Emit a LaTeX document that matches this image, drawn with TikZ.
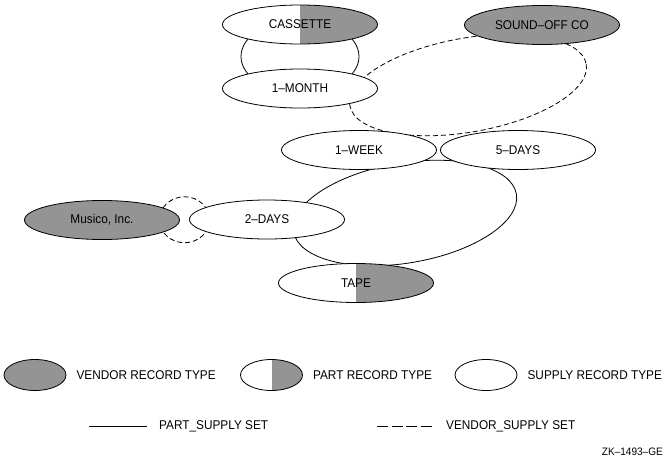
\documentclass[tikz,border=0pt]{standalone}
\usepackage{fontspec}
\setmainfont{Liberation Sans}[FakeStretch=0.93]
\usetikzlibrary{shapes.geometric,positioning,backgrounds,calc}
\definecolor{recgray}{gray}{0.58}

\begin{document}
\begin{tikzpicture} [
		x=1pt, y=-1pt,
		font=\fontsize{12.7}{14}\selectfont,
		rec/.style      = { ellipse, draw=black, line width=0.8pt, fill=white,
			minimum width=155pt, minimum height=39pt, inner sep=0pt },
		vendor/.style   = { rec, fill=recgray },
		supply/.style   = { rec },
		part/.style     = { rec, path picture={
				\fill[recgray] (path picture bounding box.north) rectangle (path picture bounding box.south east);} },
		key/.style      = { minimum width=62pt, minimum height=31pt },
		keytext/.style  = { inner sep=0pt },
		partset/.style  = { draw, line width=0.8pt },
		vendorset/.style = { draw, line width=0.8pt, dash pattern=on 5pt off 3pt },
	]
	\useasboundingbox (0,0) rectangle (672,461);
	% record occurrences
	\begin{scope}
		\node [part] (cassette) at (300,24.5) {CASSETTE};
		\node [vendor] (soundoff) at (542,25) {SOUND--OFF CO};
		\node [supply] (month) at (300,88.5) {1--MONTH};
		\node [supply] (week) at (359,150) {1--WEEK};
		\node [supply] (fivedays) at (518,150) {5--DAYS};
		\node [vendor] (musico) at (102,220) {Musico, Inc.};
		\node [supply] (twodays) at (267,219.5) {2--DAYS};
		\node [part] (tape) at (356,283) {TAPE};
	\end{scope}
	% set occurrences, drawn behind the records
	\begin{scope} [on background layer]
		\coordinate (vendorLoop) at (468,85);
		\coordinate (tapeLoop) at (405,213);
		\draw [partset] ($(cassette)!0.5!(month)$) ellipse [x radius=59, y radius=37];
		\draw [vendorset, rotate around={10:(vendorLoop)}] (vendorLoop) ellipse [x radius=120, y radius=47];
		\draw [partset, rotate around={9.6:(tapeLoop)}] (tapeLoop) ellipse [x radius=113, y radius=50];
		\draw [vendorset] ($(musico.east)!0.5!(twodays.west)$) ellipse [x radius=25, y radius=23];
	\end{scope}
	% legend
	\begin{scope}
		\node [vendor, key] (vendorKey) at (35,375) {};
		\node [keytext, right=10pt of vendorKey] (vendorText) {VENDOR RECORD TYPE};
		\node [part, key] (partKey) at (271.5,375) {};
		\node [keytext, right=10pt of partKey] (partText) {PART RECORD TYPE};
		\node [supply, key] (supplyKey) at (486,375) {};
		\node [keytext, right=10pt of supplyKey] (supplyText) {SUPPLY RECORD TYPE};
		\coordinate (psStart) at (89,426);
		\coordinate (psEnd) at (147,426);
		\path [partset] (psStart) -- (psEnd);
		\node [keytext, right=12pt of psEnd] (psText) {PART\_SUPPLY SET};
		\coordinate (vsStart) at (377,426);
		\coordinate (vsEnd) at (432,426);
		\path [vendorset, dash pattern=on 11pt off 3.5pt] (vsStart) -- (vsEnd);
		\node [keytext, right=14pt of vsEnd] (vsText) {VENDOR\_SUPPLY SET};
		\node [keytext, anchor=east, font=\fontsize{10.8}{12}\selectfont] (figId) at (663,451.5) {ZK--1493--GE};
	\end{scope}
\end{tikzpicture}
\end{document}
